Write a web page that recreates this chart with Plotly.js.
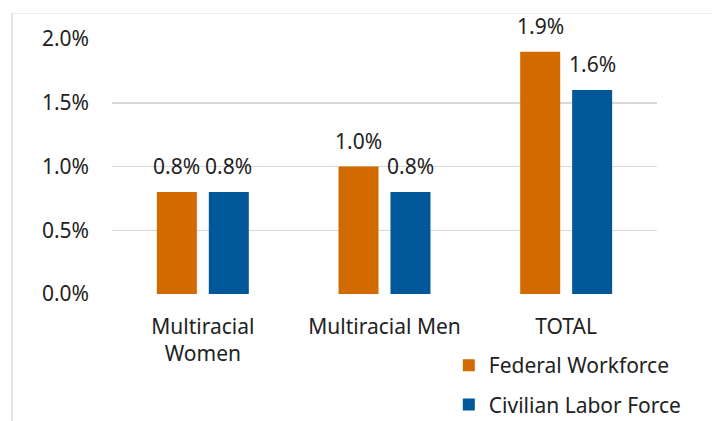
<!DOCTYPE html>
<html><head><meta charset="utf-8">
<script src="https://cdn.plot.ly/plotly-3.0.1.min.js"></script>
<style>
body{margin:0;padding:0;background:#fff;}
#wrap{position:relative;width:712px;height:421px;}
#chart{width:712px;height:421px;}
#frame{position:absolute;left:11px;top:13px;right:0;bottom:0;border-left:2px solid #e6e6e6;border-top:1px solid #eeeeee;pointer-events:none;}
</style>
</head><body>
<div id="wrap"><div id="chart"></div><div id="frame"></div></div>
<script>
const categories = ["Multiracial<br>Women", "Multiracial Men", "TOTAL"];
const seriesNames = ["Federal Workforce", "Civilian Labor Force"];
const federal = [0.008, 0.010, 0.019];
const civilian = [0.008, 0.008, 0.016];
const yTicks = [0, 0.005, 0.010, 0.015, 0.020];
const yTickLabels = ["0.0%", "0.5%", "1.0%", "1.5%", "2.0%"];

const colors = ["#D26A00", "#00589A"];
const font = "Noto Sans, sans-serif";
const fs = 21;

const traces = [federal, civilian].map((vals, i) => ({
  type: "bar", x: categories, y: vals, name: seriesNames[i],
  marker: {color: colors[i]}, legendgroup: "g" + i, hoverinfo: "none"
}));

const annotations = [];
[federal, civilian].forEach((vals, i) => {
  vals.forEach((v, j) => {
    annotations.push({
      x: categories[j], y: v, xref: "x", yref: "y",
      text: (v * 100).toFixed(1) + "%", showarrow: false,
      xshift: i === 0 ? -26 : 26, yshift: 26, yanchor: "middle",
      font: {family: font, size: fs, color: "#222"}
    });
  });
});

const layout = {
  width: 712, height: 421,
  margin: {l: 112, r: 55, t: 39, b: 127, autoexpand: false},
  paper_bgcolor: "#fff", plot_bgcolor: "#fff",
  font: {family: font, size: fs, color: "#222"},
  barmode: "group", bargap: 0.428, bargroupgap: 0.23,
  showlegend: true,
  legend: {x: 0.618, y: -0.2, xanchor: "left", yanchor: "top",
           font: {family: font, size: fs, color: "#222"}, tracegroupgap: 9,
           itemwidth: 30, bgcolor: "rgba(0,0,0,0)"},
  xaxis: {showgrid: false, zeroline: false, showline: false, ticks: "",
          ticklabelstandoff: 18,
          tickfont: {family: font, size: fs, color: "#222"}, fixedrange: true},
  yaxis: {range: [0, 0.02], tickvals: yTicks, ticktext: yTickLabels,
          showgrid: true, gridcolor: "#d9d9d9", gridwidth: 1.5,
          zeroline: false, showline: false, ticks: "",
          ticklabelstandoff: 22,
          tickfont: {family: font, size: fs, color: "#222"}, fixedrange: true},
  annotations: annotations
};

Plotly.newPlot("chart", traces, layout, {displayModeBar: false, staticPlot: true});
</script>
</body></html>
